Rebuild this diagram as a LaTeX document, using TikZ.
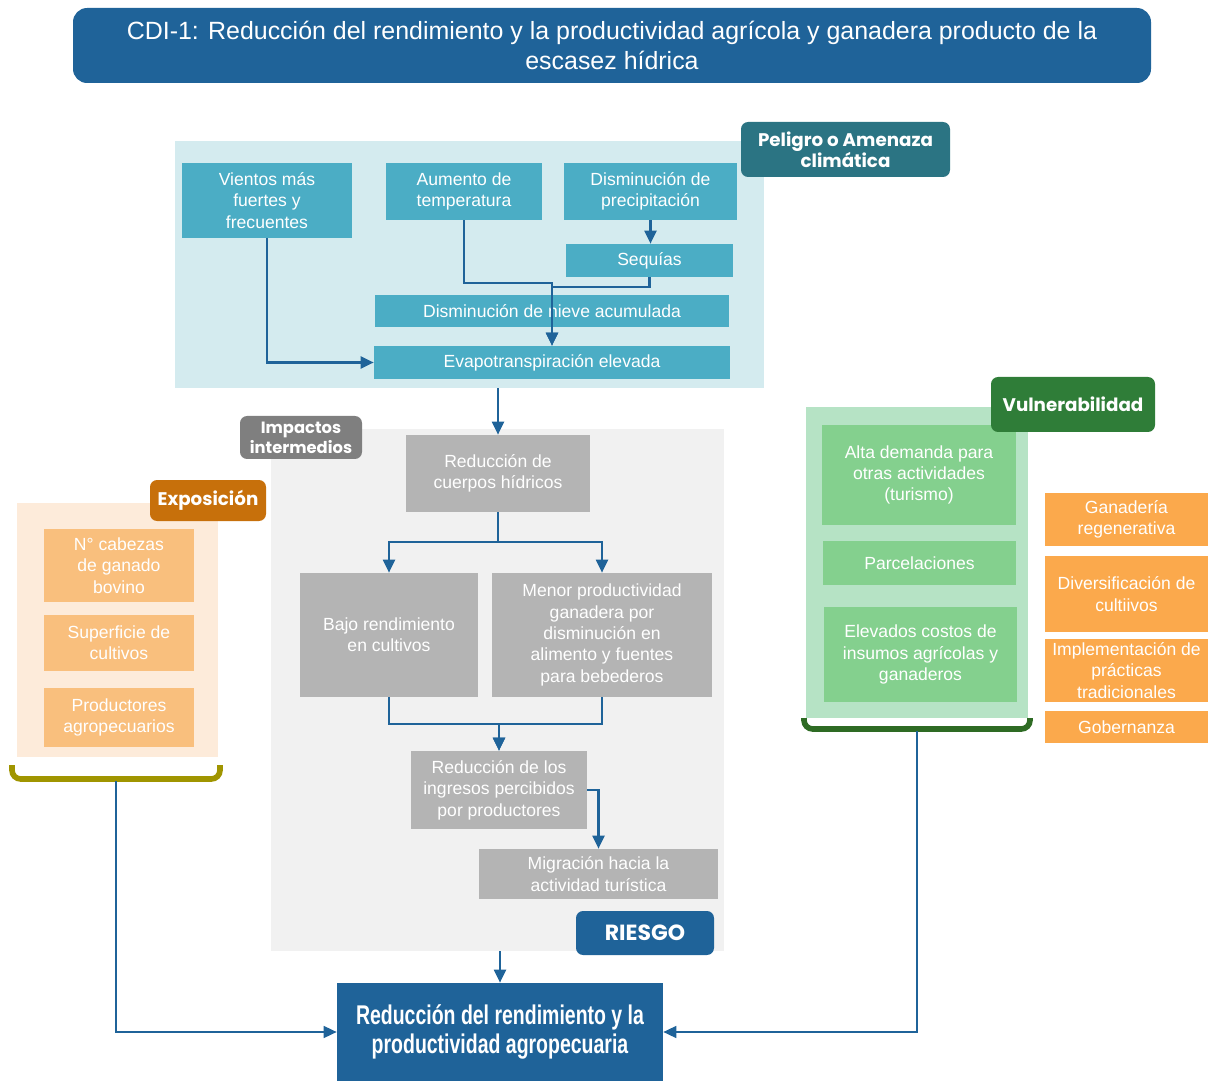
\documentclass[tikz,border=0pt]{standalone}
\usepackage{fontspec}
\setmainfont{Liberation Sans}
\newfontfamily\tagfont{Poppins}
\newfontfamily\finfont[FakeStretch=0.72]{Liberation Sans}
\usetikzlibrary{arrows.meta}
\definecolor{cdBlue}{HTML}{1F6399}
\definecolor{pelBg}{HTML}{D4EBEF}
\definecolor{pelBox}{HTML}{4BADC5}
\definecolor{pelTag}{HTML}{2B7483}
\definecolor{impBg}{HTML}{F1F1F1}
\definecolor{impBox}{HTML}{B4B4B4}
\definecolor{impTag}{HTML}{7F7F7F}
\definecolor{expBg}{HTML}{FDEBDA}
\definecolor{expBox}{HTML}{F9BF7D}
\definecolor{expTag}{HTML}{C7700B}
\definecolor{expBrk}{HTML}{A09500}
\definecolor{vulBg}{HTML}{B6E3C5}
\definecolor{vulBox}{HTML}{84D08E}
\definecolor{vulTag}{HTML}{2F7D38}
\definecolor{vulBrk}{HTML}{2E6B24}
\definecolor{adaBox}{HTML}{FBA94C}
\tikzset{
  cdtxt/.style={font=\fontsize{10}{12.2}\selectfont, text=white, align=center, inner sep=0pt},
  cdarea/.style={inner sep=0pt},
  cdtag/.style={rounded corners=4pt, text=white, align=center, inner sep=0pt,
    font=\fontsize{10.4}{12.2}\tagfont\bfseries},
  cdarr/.style={-{Triangle[length=2.6mm, width=2.4mm]}, line width=1.2pt, draw=cdBlue},
  cdlink/.style={cdarr, line width=0.9pt},
  cdbrk/.style={line width=3.2pt, rounded corners=5pt},
}
\newcommand{\cdblk}[7]{%
  \node[#1, minimum width={(#5-#3)*0.02cm}, minimum height={(#6-#4)*0.02cm}]
    (#2) at ({(#3+#5)/2},{(#4+#6)/2}) {#7};}

\begin{document}
\begin{tikzpicture}[x=0.02cm, y=-0.02cm]
  \useasboundingbox (0,0) rectangle (1208,1081);

  \cdblk{cdtxt, fill=cdBlue, rounded corners=8pt, font=\fontsize{14.2}{17.5}\selectfont}{tit}{73}{8}{1151}{83}
    {CDI-1: Reducción del rendimiento y la productividad agrícola y ganadera producto de la\\escasez hídrica}

  % areas
  \cdblk{cdarea, fill=pelBg}{pel}{175}{141}{764}{388}{}
  \cdblk{cdarea, fill=impBg}{imp}{271}{429}{724}{951}{}
  \cdblk{cdarea, fill=expBg}{exp}{17}{503}{218}{757}{}
  \cdblk{cdarea, fill=vulBg}{vul}{806}{407}{1028}{718}{}

  % peligro
  \cdblk{cdtxt, fill=pelBox}{vien}{182}{163}{352}{238}{Vientos más\\fuertes y\\frecuentes}
  \cdblk{cdtxt, fill=pelBox}{aum}{386}{163}{542}{220}{Aumento de\\temperatura}
  \cdblk{cdtxt, fill=pelBox}{prec}{564}{163}{737}{220}{Disminución de\\precipitación}
  \cdblk{cdtxt, fill=pelBox}{seq}{566}{244}{733}{277}{Sequías}
  \cdblk{cdtxt, fill=pelBox}{niev}{375}{295}{729}{327}{Disminución de nieve acumulada}
  \cdblk{cdtxt, fill=pelBox}{evap}{374}{346}{730}{379}{Evapotranspiración elevada}

  % impactos
  \cdblk{cdtxt, fill=impBox}{cue}{406}{435}{590}{512}{Reducción de\\cuerpos hídricos}
  \cdblk{cdtxt, fill=impBox}{bajo}{300}{573}{478}{697}{Bajo rendimiento\\en cultivos}
  \cdblk{cdtxt, fill=impBox}{menor}{492}{573}{712}{697}{Menor productividad\\ganadera por\\disminución en\\alimento y fuentes\\para bebederos}
  \cdblk{cdtxt, fill=impBox}{ing}{411}{751}{587}{829}{Reducción de los\\ingresos percibidos\\por productores}
  \cdblk{cdtxt, fill=impBox}{mig}{479}{849}{718}{899}{Migración hacia la\\actividad turística}

  % exposicion
  \cdblk{cdtxt, fill=expBox}{cab}{44}{529}{194}{602}{N° cabezas\\de ganado\\bovino}
  \cdblk{cdtxt, fill=expBox}{sup}{44}{615}{194}{671}{Superficie de\\cultivos}
  \cdblk{cdtxt, fill=expBox}{prod}{44}{688}{194}{747}{Productores\\agropecuarios}

  % vulnerabilidad
  \cdblk{cdtxt, fill=vulBox}{alta}{822}{425}{1016}{525}{Alta demanda para\\otras actividades\\(turismo)}
  \cdblk{cdtxt, fill=vulBox}{parc}{823}{541}{1016}{585}{Parcelaciones}
  \cdblk{cdtxt, fill=vulBox}{cost}{824}{607}{1017}{702}{Elevados costos de\\insumos agrícolas y\\ganaderos}

  % adaptacion
  \cdblk{cdtxt, fill=adaBox}{gan}{1045}{493}{1208}{546}{Ganadería\\regenerativa}
  \cdblk{cdtxt, fill=adaBox}{div}{1045}{556}{1208}{632}{Diversificación de\\cultiivos}
  \cdblk{cdtxt, fill=adaBox}{impl}{1045}{639}{1208}{702}{Implementación de\\prácticas\\tradicionales}
  \cdblk{cdtxt, fill=adaBox}{gob}{1045}{711}{1208}{743}{Gobernanza}

  \cdblk{cdtxt, fill=cdBlue, font=\fontsize{15.4}{16.8}\finfont\bfseries}{fin}{337}{983}{663}{1081}
    {Reducción del rendimiento y la\\productividad agropecuaria}

  % brackets
  \draw[cdbrk, draw=expBrk] (12,765) -- (12,779) -- (220,779) -- (220,765);
  \draw[cdbrk, draw=vulBrk] (804,718) -- (804,729) -- (1030,729) -- (1030,718);
  \coordinate (expb) at (116,781);
  \coordinate (vulb) at (917,731);

  \draw[cdarr] (vien.south) |- (evap.west);
  \draw[cdarr] (aum.south) -- ++(0,63) -| (evap.north);
  \draw[cdarr] (prec.south) -- (prec.south |- seq.north);
  \draw[cdarr] (seq.south) -- ++(0,10) -| (evap.north);
  \draw[cdarr] (pel.south -| cue.north) -- (cue.north);
  \draw[cdarr] (cue.south) -- ++(0,30) -| (bajo.north);
  \draw[cdarr] (cue.south) -- ++(0,30) -| (menor.north);
  \draw[cdarr] (bajo.south) -- ++(0,27) -| (ing.north);
  \draw[cdarr] (menor.south) -- ++(0,27) -| (ing.north);
  \draw[cdarr] (ing.east) -| (mig.north);
  \draw[cdarr] (imp.south -| fin.north) -- (fin.north);
  \draw[cdlink] (expb) |- (fin.west);
  \draw[cdlink] (vulb) |- (fin.east);

  % tags
  \cdblk{cdtag, fill=pelTag}{peltag}{741}{122}{950}{177}{Peligro o Amenaza\\climática}
  \cdblk{cdtag, fill=impTag, font=\fontsize{9.3}{11.2}\tagfont\bfseries}{imptag}{240}{416}{362}{459}{Impactos\\intermedios}
  \cdblk{cdtag, fill=expTag}{exptag}{150}{480}{266}{521}{Exposición}
  \cdblk{cdtag, fill=vulTag}{vultag}{991}{377}{1155}{432}{Vulnerabilidad}
  \cdblk{cdtag, fill=cdBlue, font=\fontsize{12.5}{14}\tagfont\bfseries}{ries}{576}{911}{714}{955}{RIESGO}
\end{tikzpicture}
\end{document}
